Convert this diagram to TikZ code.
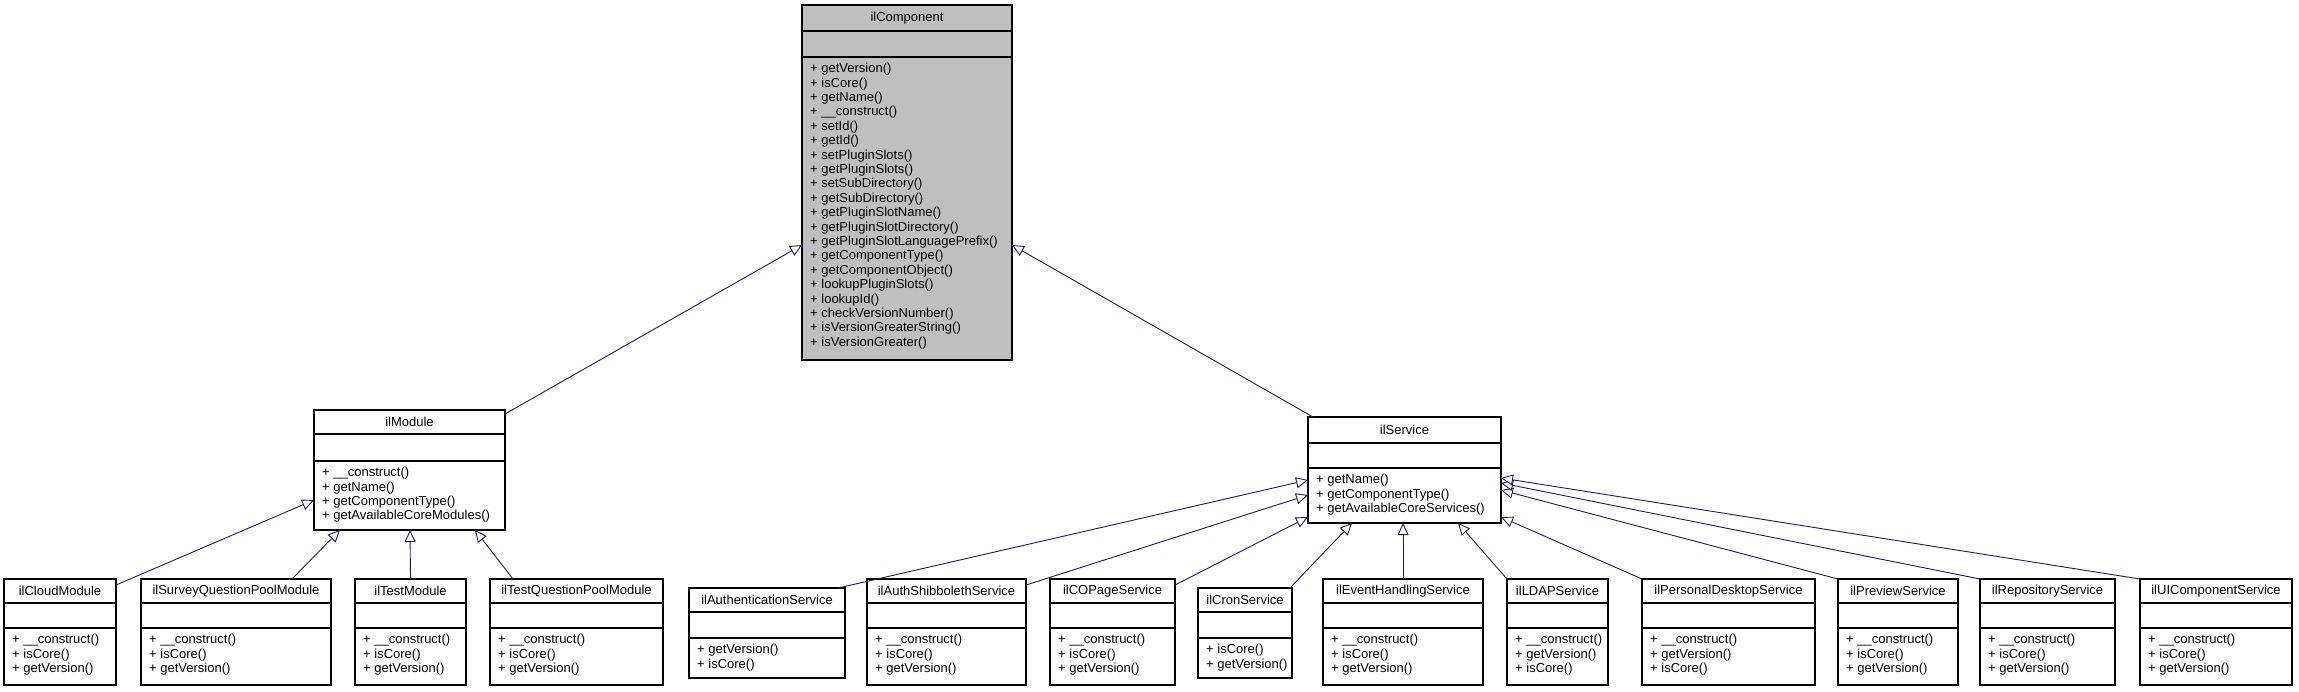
\documentclass[tikz,border=0pt]{standalone}
\usepackage{fontspec}
\setmainfont{Liberation Sans}
\usetikzlibrary{arrows.meta,calc}
\definecolor{edge}{HTML}{191970}
\definecolor{grayfill}{HTML}{BFBFBF}
\newcommand\umlclass[9]{%
  \node[box,minimum width={(#3-#2)*1pt},minimum height={(#7-#4)*1pt}] (#1) at ({(#2+#3)/2},{-(#4+#7)/2}) {};
  \draw[sep] (#2,-#5) -- (#3,-#5);
  \draw[sep] (#2,-#6) -- (#3,-#6);
  \node[txt] (#1-t) at ({(#2+#3)/2},{-(#4+#5)/2}) {#8};
  \node[txt,anchor=north west,align=left] (#1-m) at (#2+8,-#6-6) {#9};
}
\begin{document}
\begin{tikzpicture}[x=1pt,y=1pt,
  box/.style={draw=black,line width=1.1pt,inner sep=0pt,outer sep=0pt,fill=white},
  sep/.style={line width=1.1pt},
  txt/.style={inner sep=0pt,font=\fontsize{13}{14.4}\selectfont},
  inh/.style={draw=edge,line width=0.9pt,-{Triangle[open,length=12pt,width=11pt,fill=white]}}]
\useasboundingbox (0,0) rectangle (2299,-691);
\fill[white] (0,0) rectangle (2299,-691);
% top
\umlclass{comp}{802}{1012}{5}{31}{57}{360}{ilComponent}{+ getVersion()\\+ isCore()\\+ getName()\\+ \_\_construct()\\+ setId()\\+ getId()\\+ setPluginSlots()\\+ getPluginSlots()\\+ setSubDirectory()\\+ getSubDirectory()\\+ getPluginSlotName()\\+ getPluginSlotDirectory()\\+ getPluginSlotLanguagePrefix()\\+ getComponentType()\\+ getComponentObject()\\+ lookupPluginSlots()\\+ lookupId()\\+ checkVersionNumber()\\+ isVersionGreaterString()\\+ isVersionGreater()}
\fill[grayfill] ([shift={(0.6,-0.6)}]comp.north west) rectangle ([shift={(-0.6,0.6)}]comp.south east);
\draw[line width=1.1pt] (comp.north west) rectangle (comp.south east);
\draw[sep] (802,-31) -- (1012,-31);
\draw[sep] (802,-57) -- (1012,-57);
\node[txt] at (comp-t) {ilComponent};
\node[txt,anchor=north west,align=left] at (comp-m.north west) {+ getVersion()\\+ isCore()\\+ getName()\\+ \_\_construct()\\+ setId()\\+ getId()\\+ setPluginSlots()\\+ getPluginSlots()\\+ setSubDirectory()\\+ getSubDirectory()\\+ getPluginSlotName()\\+ getPluginSlotDirectory()\\+ getPluginSlotLanguagePrefix()\\+ getComponentType()\\+ getComponentObject()\\+ lookupPluginSlots()\\+ lookupId()\\+ checkVersionNumber()\\+ isVersionGreaterString()\\+ isVersionGreater()};
% middle
\umlclass{mod}{314}{505}{410}{434}{461}{530}{ilModule}{+ \_\_construct()\\+ getName()\\+ getComponentType()\\+ getAvailableCoreModules()}
\umlclass{serv}{1308}{1501}{417}{443}{468}{523}{ilService}{+ getName()\\+ getComponentType()\\+ getAvailableCoreServices()}
% modules
\umlclass{cloud}{4}{116}{579}{603}{628}{685}{ilCloudModule}{+ \_\_construct()\\+ isCore()\\+ getVersion()}
\umlclass{survey}{141}{331}{579}{603}{628}{685}{ilSurveyQuestionPoolModule}{+ \_\_construct()\\+ isCore()\\+ getVersion()}
\umlclass{test}{355}{466}{579}{603}{628}{685}{ilTestModule}{+ \_\_construct()\\+ isCore()\\+ getVersion()}
\umlclass{tqp}{490}{663}{579}{603}{628}{685}{ilTestQuestionPoolModule}{+ \_\_construct()\\+ isCore()\\+ getVersion()}
% services
\umlclass{auth}{689}{845}{588}{612}{638}{678}{ilAuthenticationService}{+ getVersion()\\+ isCore()}
\umlclass{shib}{867}{1026}{579}{603}{628}{685}{ilAuthShibbolethService}{+ \_\_construct()\\+ isCore()\\+ getVersion()}
\umlclass{copage}{1050}{1175}{579}{603}{628}{685}{ilCOPageService}{+ \_\_construct()\\+ isCore()\\+ getVersion()}
\umlclass{cron}{1198}{1292}{588}{612}{638}{678}{ilCronService}{+ isCore()\\+ getVersion()}
\umlclass{event}{1323}{1483}{579}{603}{628}{685}{ilEventHandlingService}{+ \_\_construct()\\+ isCore()\\+ getVersion()}
\umlclass{ldap}{1507}{1608}{579}{603}{628}{685}{ilLDAPService}{+ \_\_construct()\\+ getVersion()\\+ isCore()}
\umlclass{pd}{1642}{1815}{579}{603}{628}{685}{ilPersonalDesktopService}{+ \_\_construct()\\+ getVersion()\\+ isCore()}
\umlclass{prev}{1838}{1958}{579}{603}{628}{685}{ilPreviewService}{+ \_\_construct()\\+ isCore()\\+ getVersion()}
\umlclass{repo}{1980}{2115}{579}{603}{628}{685}{ilRepositoryService}{+ \_\_construct()\\+ isCore()\\+ getVersion()}
\umlclass{ui}{2140}{2292}{579}{603}{628}{685}{ilUIComponentService}{+ \_\_construct()\\+ isCore()\\+ getVersion()}
% connectors
\draw[inh] ($(mod.north east)+(0,-4)$) -- ($(comp.south west)+(0,115)$);
\draw[inh] ($(serv.north west)+(5,0)$) -- ($(comp.south east)+(0,115)$);
\draw[inh] ($(cloud.north east)+(0,-6)$) -- ($(mod.south west)+(0,30)$);
\draw[inh] ($(survey.north east)+(-39,0)$) -- ($(mod.south west)+(26,0)$);
\draw[inh] (test.north) -- ($(mod.south west)+(96,0)$);
\draw[inh] ($(tqp.north west)+(23,0)$) -- ($(mod.south west)+(161,0)$);
\draw[inh] ($(auth.north east)+(-7,0)$) -- ($(serv.south west)+(0,43)$);
\draw[inh] ($(shib.north east)+(0,-6)$) -- ($(serv.south west)+(0,28)$);
\draw[inh] ($(copage.north east)+(0,-6)$) -- ($(serv.south west)+(0,6)$);
\draw[inh] ($(cron.north east)+(-2,0)$) -- ($(serv.south west)+(44,0)$);
\draw[inh] (event.north) -- (event.north |- serv.south);
\draw[inh] (ldap.north west) -- ($(serv.south west)+(150,0)$);
\draw[inh] (pd.north west) -- ($(serv.south east)+(0,6)$);
\draw[inh] (prev.north west) -- ($(serv.south east)+(0,33)$);
\draw[inh] (repo.north west) -- ($(serv.south east)+(0,40)$);
\draw[inh] (ui.north west) -- ($(serv.south east)+(0,45)$);
\end{tikzpicture}
\end{document}
